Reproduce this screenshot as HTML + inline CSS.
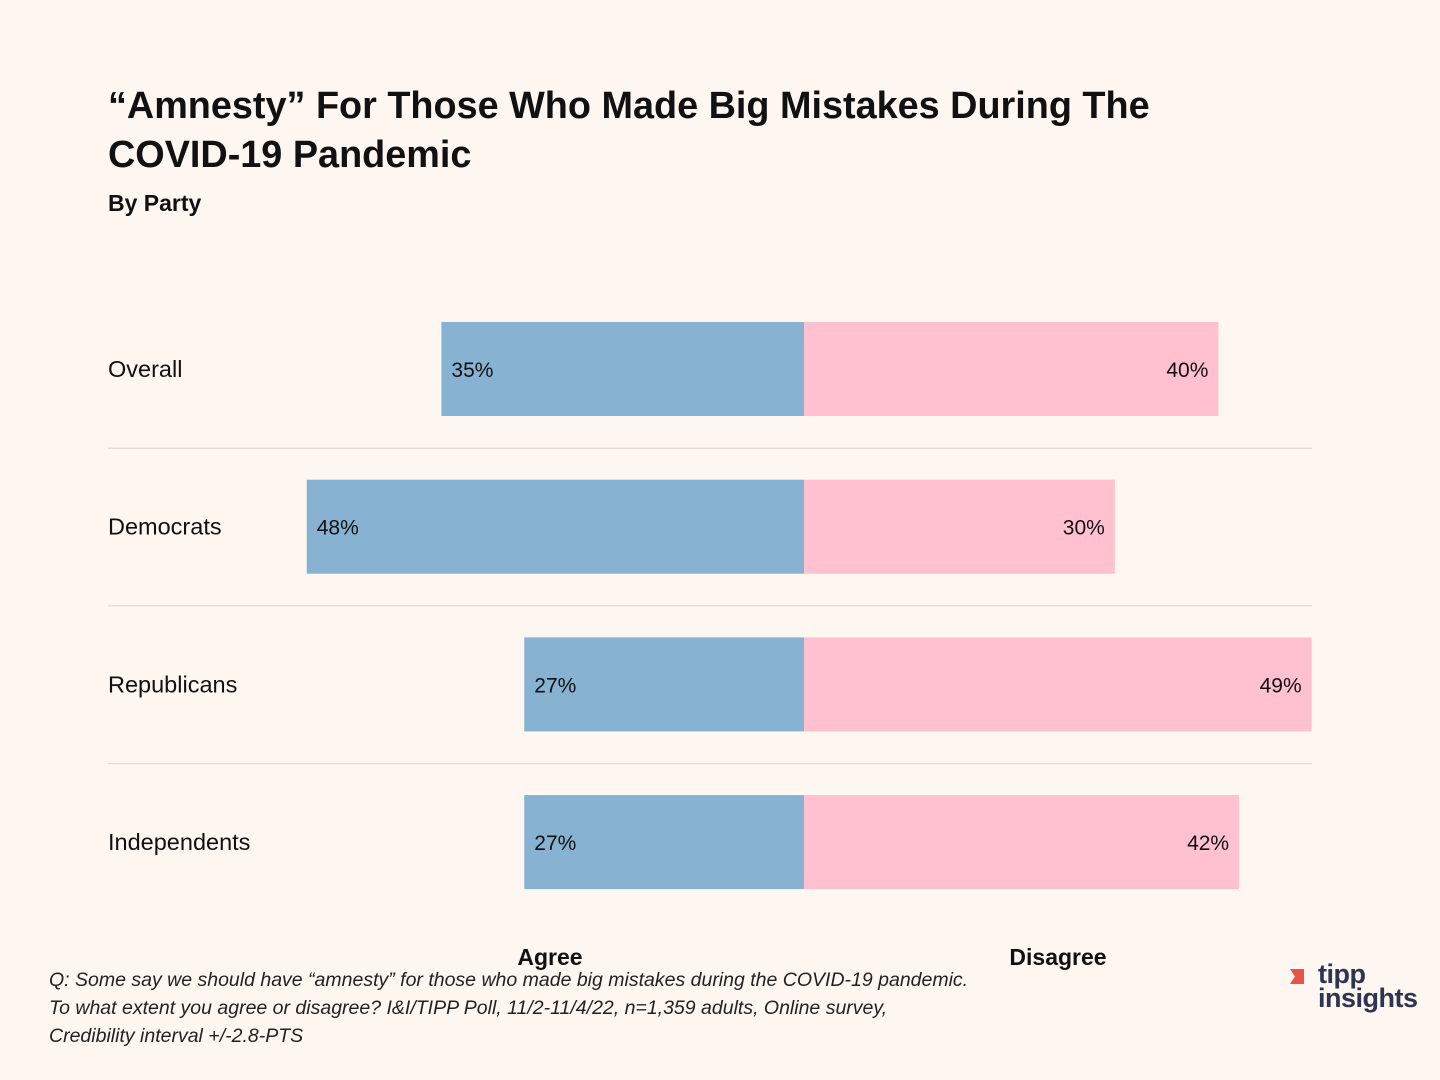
<!DOCTYPE html>
<html><head><meta charset="utf-8"><style>
body{margin:0;width:1440px;height:1080px;background:#fef6f1;font-family:"Liberation Sans","DejaVu Sans",sans-serif;position:relative;overflow:hidden;color:#111}
.t{position:absolute;white-space:nowrap}
</style></head><body>
<div class="t" style="left:108px;top:82px;font-size:37.8px;font-weight:bold;line-height:49px">“Amnesty” For Those Who Made Big Mistakes During The<br>COVID-19 Pandemic</div>
<div class="t" style="left:108px;top:190px;font-size:23px;font-weight:bold">By Party</div>
<svg id="chart" width="1440" height="1080" style="position:absolute;left:0;top:0"></svg>
<div class="t" style="left:49px;top:966px;font-size:19.5px;font-style:italic;line-height:28px;color:#222">Q: Some say we should have “amnesty” for those who made big mistakes during the COVID-19 pandemic.<br>To what extent you agree or disagree? I&amp;I/TIPP Poll, 11/2-11/4/22, n=1,359 adults, Online survey,<br>Credibility interval +/-2.8-PTS</div>
<div style="position:absolute;left:1282px;top:965px;width:140px;height:50px">
<div style="position:absolute;left:8px;top:4px;width:14px;height:15px;background:#e8534a;clip-path:polygon(0 0,100% 0,100% 100%,0 100%,35% 50%)"></div>
<div class="t" style="left:36px;top:-6px;font-size:27px;font-weight:bold;color:#2e3550;letter-spacing:-0.5px">tipp</div>
<div class="t" style="left:36px;top:18px;font-size:27px;font-weight:bold;color:#2e3550;letter-spacing:-0.5px">insights</div>
</div>
<script>
const categories=["Overall","Democrats","Republicans","Independents"];
const agree=[35,48,27,27];
const disagree=[40,30,49,42];
const svg=document.getElementById('chart');
const NS='http://www.w3.org/2000/svg';
const cx=804, k=10.36, top0=322, pitch=157.7, bh=94;
const x=v=>v*k;
function mk(t,a){const e=document.createElementNS(NS,t);for(const n in a)e.setAttribute(n,a[n]);svg.appendChild(e);return e;}
categories.forEach((c,i)=>{
  const y=top0+i*pitch;
  if(i>0){const l=mk('line',{x1:108,x2:1312,y1:y-31.5,y2:y-31.5,stroke:'#d8d4d0','stroke-width':1});
  
  }
  const lab=mk('text',{x:108,y:y+bh/2+8,'font-size':23.5,fill:'#111','font-family':'Liberation Sans, sans-serif'});lab.textContent=c;
  
  
  const a=mk('rect',{x:cx-x(agree[i]),y:y,width:x(agree[i]),height:bh,fill:'#87b2d2'});
  
  
  const d=mk('rect',{x:cx,y:y,width:x(disagree[i]),height:bh,fill:'#ffc1d0'});
  
  
  const at=mk('text',{x:cx-x(agree[i])+10,y:y+bh/2+8,'font-size':21,fill:'#111','font-family':'Liberation Sans, sans-serif'});at.textContent=agree[i]+'%';
  
  
  const dt=mk('text',{x:cx+x(disagree[i])-10,y:y+bh/2+8,'font-size':21,fill:'#111','text-anchor':'end','font-family':'Liberation Sans, sans-serif'});dt.textContent=disagree[i]+'%';
  
  
});
const la=mk('text',{x:550,y:965,'font-size':23,'font-weight':'bold','text-anchor':'middle',fill:'#111','font-family':'Liberation Sans, sans-serif'});la.textContent='Agree';


const ld=mk('text',{x:1058,y:965,'font-size':23,'font-weight':'bold','text-anchor':'middle',fill:'#111','font-family':'Liberation Sans, sans-serif'});ld.textContent='Disagree';


</script>
</body></html>
